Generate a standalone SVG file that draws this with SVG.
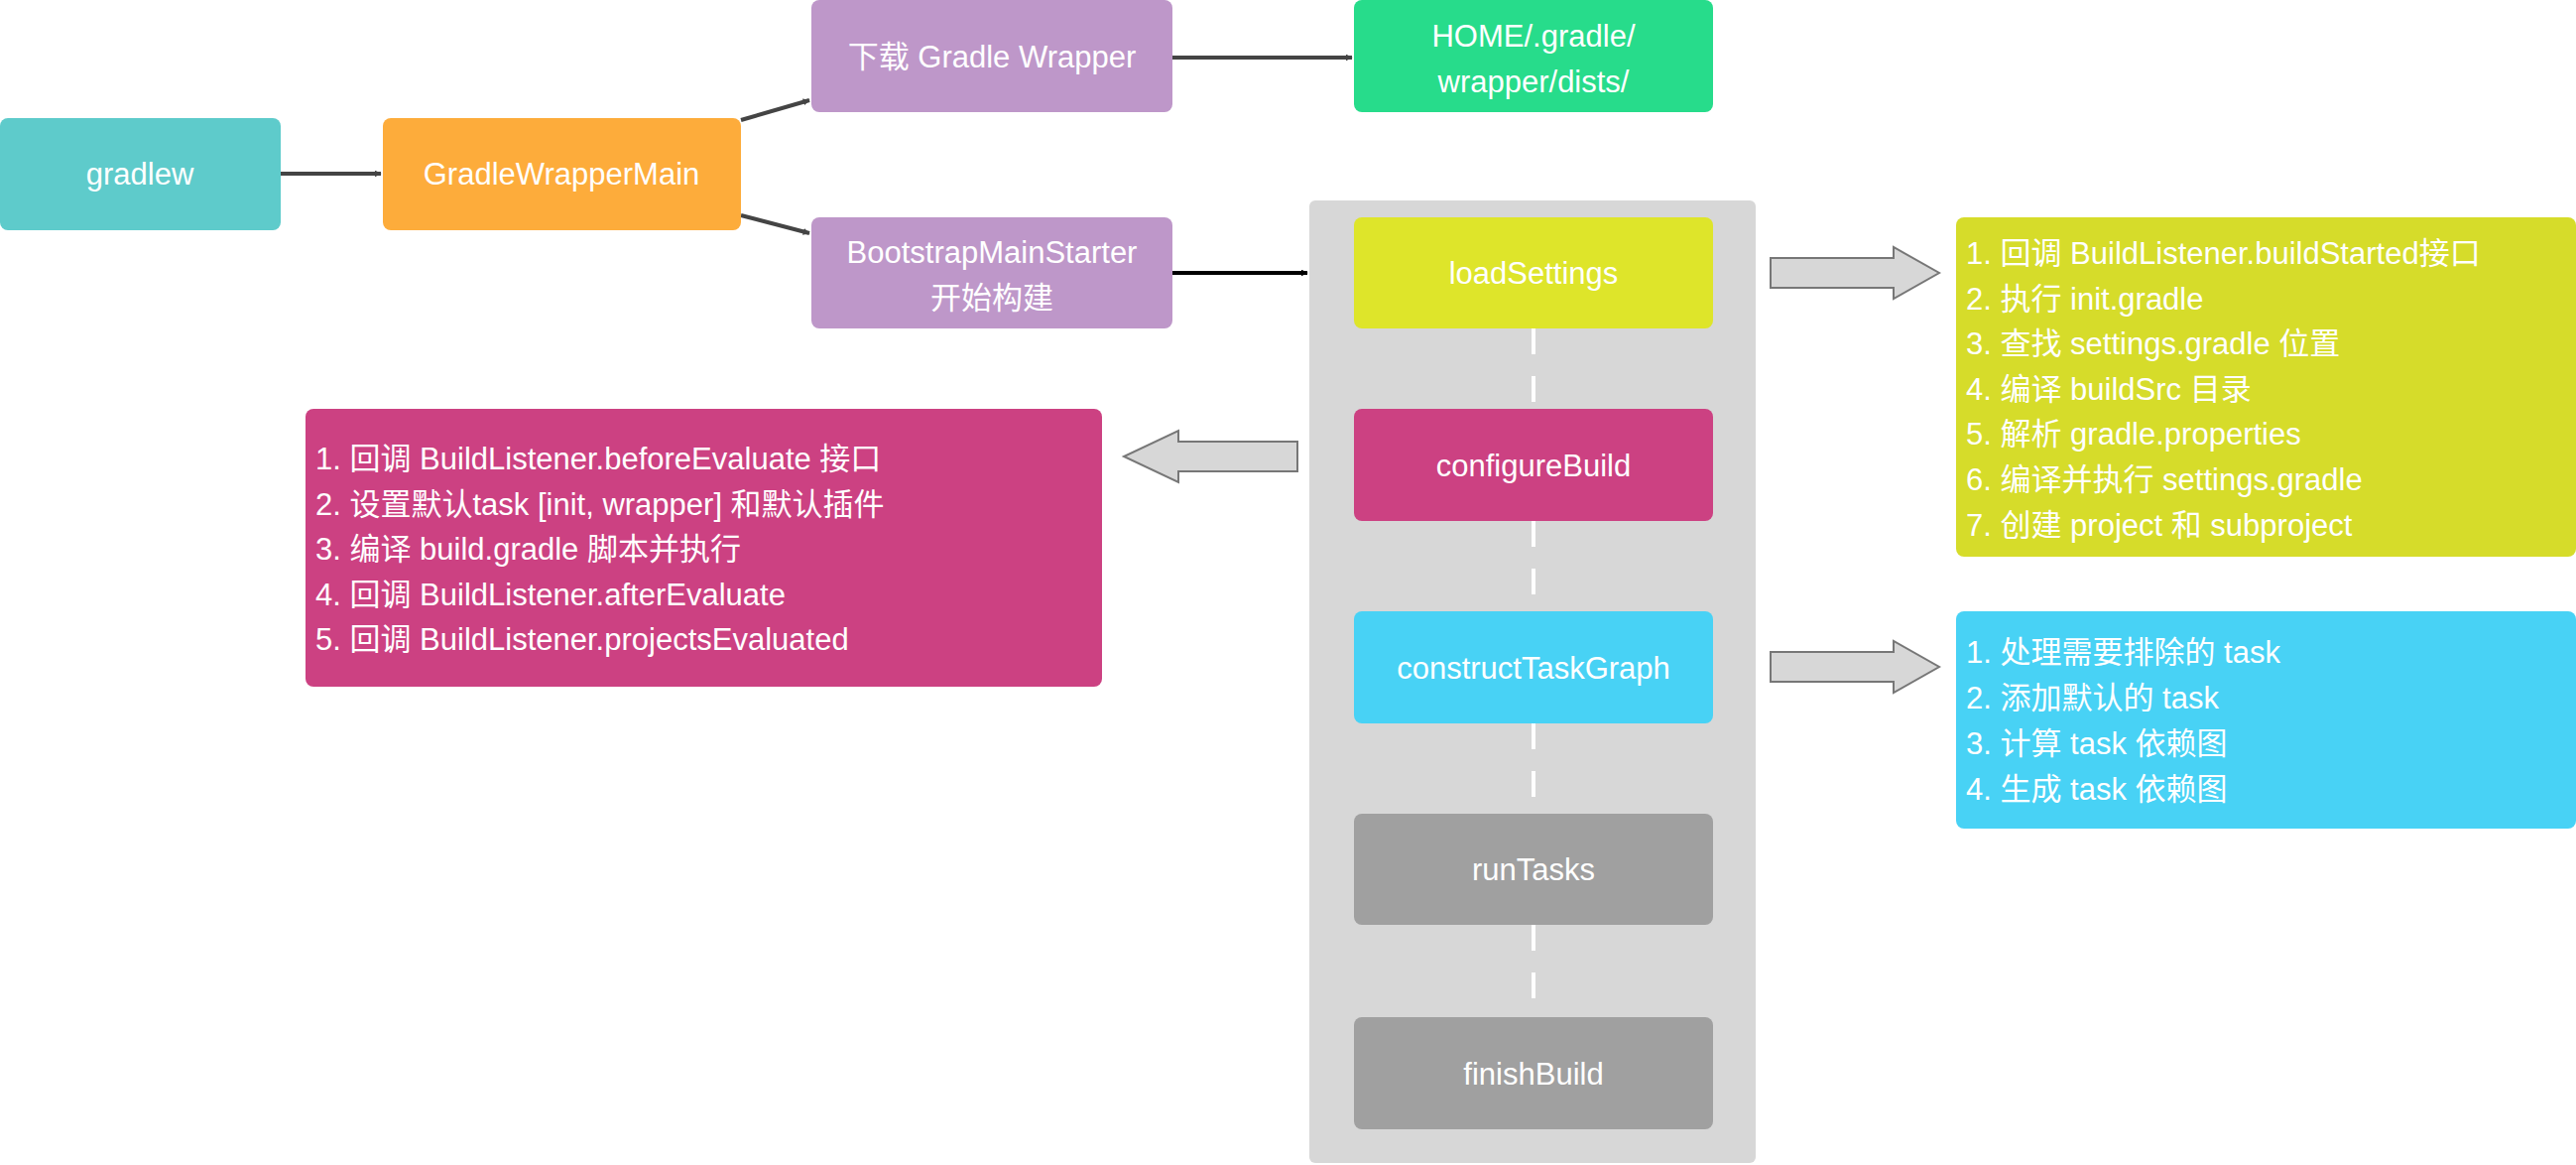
<svg xmlns="http://www.w3.org/2000/svg" width="2597" height="1174" viewBox="0 0 2597 1174">
<defs>
<style>
text{font-family:"Liberation Sans","Noto Sans CJK SC",sans-serif;font-size:31px;fill:#fff}
.c{text-anchor:middle;dominant-baseline:central}
.l{dominant-baseline:central}
.conn{stroke:#444;stroke-width:4;fill:none}
.blk{fill:#d7d7d7;stroke:#777;stroke-width:2}
.dash{stroke:#fff;stroke-width:4;stroke-dasharray:26,22}
</style>
<marker id="ah" viewBox="0 0 10 10" refX="9" refY="5" markerWidth="7" markerHeight="7" markerUnits="userSpaceOnUse" orient="auto"><path d="M0,0L10,5L0,10z" fill="#444"/></marker>
<marker id="ahb" viewBox="0 0 10 10" refX="9" refY="5" markerWidth="7" markerHeight="7" markerUnits="userSpaceOnUse" orient="auto"><path d="M0,0L10,5L0,10z" fill="#000"/></marker>
</defs>
<rect x="1320" y="202" width="450" height="970" rx="6" fill="#d7d7d7"/>
<g id="connectors">
<line class="conn" x1="283" y1="175" x2="384" y2="175" marker-end="url(#ah)"/>
<line class="conn" x1="747" y1="121" x2="816" y2="101" marker-end="url(#ah)"/>
<line class="conn" x1="747" y1="217" x2="816" y2="235" marker-end="url(#ah)"/>
<line class="conn" x1="1182" y1="58" x2="1363" y2="58" marker-end="url(#ah)"/>
<line stroke="#000" stroke-width="4" x1="1182" y1="275" x2="1318" y2="275" marker-end="url(#ahb)"/>
<line class="dash" x1="1546" y1="331" x2="1546" y2="412"/>
<line class="dash" x1="1546" y1="525" x2="1546" y2="616"/>
<line class="dash" x1="1546" y1="729" x2="1546" y2="820"/>
<line class="dash" x1="1546" y1="932" x2="1546" y2="1025"/>
<path class="blk" d="M1785,260H1909V249L1955,275L1909,301V290H1785Z"/>
<path class="blk" d="M1785,657H1909V646L1955,672L1909,698V687H1785Z"/>
<path class="blk" d="M1308,445H1188V434L1133,460L1188,486V475H1308Z"/>
</g>
<g id="gradlew"><rect x="0" y="119" width="283" height="113" rx="8" fill="#5ecbcb"/><text class="c" x="141" y="175">gradlew</text></g>
<g id="gwm"><rect x="386" y="119" width="361" height="113" rx="8" fill="#fdac3b"/><text class="c" x="566" y="175">GradleWrapperMain</text></g>
<g id="download"><rect x="818" y="0" width="364" height="113" rx="8" fill="#be97c9"/><text class="c" x="1000" y="57">下载 Gradle Wrapper</text></g>
<g id="home"><rect x="1365" y="0" width="362" height="113" rx="8" fill="#27dc8b"/><text class="c" x="1546" y="36">HOME/.gradle/</text><text class="c" x="1546" y="82">wrapper/dists/</text></g>
<g id="bootstrap"><rect x="818" y="219" width="364" height="112" rx="8" fill="#be97c9"/><text class="c" x="1000" y="254">BootstrapMainStarter</text><text class="c" x="1000" y="300">开始构建</text></g>
<g id="loadSettings"><rect x="1365" y="219" width="362" height="112" rx="8" fill="#dee52a"/><text class="c" x="1546" y="275">loadSettings</text></g>
<g id="configureBuild"><rect x="1365" y="412" width="362" height="113" rx="8" fill="#cc4182"/><text class="c" x="1546" y="469">configureBuild</text></g>
<g id="constructTaskGraph"><rect x="1365" y="616" width="362" height="113" rx="8" fill="#48d2f5"/><text class="c" x="1546" y="673">constructTaskGraph</text></g>
<g id="runTasks"><rect x="1365" y="820" width="362" height="112" rx="8" fill="#a0a0a0"/><text class="c" x="1546" y="876">runTasks</text></g>
<g id="finishBuild"><rect x="1365" y="1025" width="362" height="113" rx="8" fill="#a0a0a0"/><text class="c" x="1546" y="1082">finishBuild</text></g>
<g id="settingsList"><rect x="1972" y="219" width="625" height="342" rx="8" fill="#d6dc2a"/>
<text class="l" x="1982" y="255">1. 回调 BuildListener.buildStarted接口</text>
<text class="l" x="1982" y="301">2. 执行 init.gradle</text>
<text class="l" x="1982" y="346">3. 查找 settings.gradle 位置</text>
<text class="l" x="1982" y="392">4. 编译 buildSrc 目录</text>
<text class="l" x="1982" y="437">5. 解析 gradle.properties</text>
<text class="l" x="1982" y="483">6. 编译并执行 settings.gradle</text>
<text class="l" x="1982" y="529">7. 创建 project 和 subproject</text></g>
<g id="configList"><rect x="308" y="412" width="803" height="280" rx="8" fill="#cc4182"/>
<text class="l" x="318" y="462">1. 回调 BuildListener.beforeEvaluate 接口</text>
<text class="l" x="318" y="508">2. 设置默认task [init, wrapper] 和默认插件</text>
<text class="l" x="318" y="553">3. 编译 build.gradle 脚本并执行</text>
<text class="l" x="318" y="599">4. 回调 BuildListener.afterEvaluate</text>
<text class="l" x="318" y="644">5. 回调 BuildListener.projectsEvaluated</text></g>
<g id="graphList"><rect x="1972" y="616" width="625" height="219" rx="8" fill="#48d2f5"/>
<text class="l" x="1982" y="657">1. 处理需要排除的 task</text>
<text class="l" x="1982" y="703">2. 添加默认的 task</text>
<text class="l" x="1982" y="749">3. 计算 task 依赖图</text>
<text class="l" x="1982" y="795">4. 生成 task 依赖图</text></g>
</svg>
